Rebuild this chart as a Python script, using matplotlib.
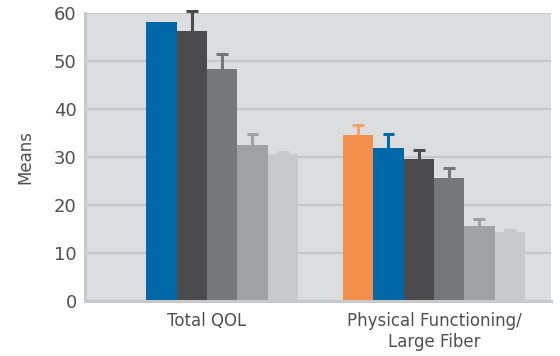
import numpy as np
from matplotlib import pyplot as plt

categories = ['Total QOL', 'Physical Functioning/\nLarge Fiber']

# one list per bar colour, left to right within each group (nan = no bar)
orange = [np.nan, 34.5]
blue = [58.1, 31.8]
dark = [56.2, 29.5]
mid = [48.3, 25.6]
light = [32.4, 15.6]
lighter = [30.6, 14.3]

# upper error bar lengths
orange_err = [0, 2.1]
blue_err = [0, 2.9]
dark_err = [4.2, 2.0]
mid_err = [3.1, 2.0]
light_err = [2.3, 1.4]
lighter_err = [0.4, 0.5]

series = [
    (orange, orange_err, '#F38F4B', '#F5A26C'),
    (blue, blue_err, '#0068A7', '#0068A7'),
    (dark, dark_err, '#4B4B4D', '#4B4B4D'),
    (mid, mid_err, '#76777A', '#76777A'),
    (light, light_err, '#A0A1A4', '#A0A1A4'),
    (lighter, lighter_err, '#C8C9CB', '#C8C9CB'),
]

plt.rcParams['font.family'] = ['DejaVu Sans']
txt = '#505050'

fig = plt.figure(figsize=(5.6, 3.56), dpi=100)
ax = fig.add_axes([0.152, 0.155, 0.832, 0.809])
ax.set_facecolor('#DCDDDF')

x = np.arange(len(categories))
w = 0.1335
cap = 0.026
for i, (vals, errs, col, ecol) in enumerate(series):
    pos = x + (i - 2.5) * w
    vals = np.array(vals, dtype=float)
    ax.bar(pos, vals, width=w, color=col, zorder=2)
    for p, v, e in zip(pos, vals, errs):
        if np.isnan(v) or e == 0:
            continue
        ax.vlines(p, v, v + e, color=ecol, linewidth=2.2, zorder=1.5, clip_on=False)
        ax.hlines(v + e, p - cap, p + cap, color=ecol, linewidth=2.2,
                  zorder=1.5, clip_on=False)

ax.set_xlim(-0.537, 1.516)
ax.set_ylim(0, 60)
ax.set_yticks(range(0, 61, 10))
ax.set_xticks(x)
ax.set_xticklabels(categories, fontsize=12, color=txt)
ax.tick_params(axis='y', length=0, pad=6, labelsize=13, labelcolor=txt)
ax.tick_params(axis='x', length=0, pad=8)
ax.set_ylabel('Means', fontsize=12, color=txt, labelpad=14)

ax.grid(axis='y', color='#C6C7C9', linewidth=1.6, zorder=0)
ax.set_axisbelow(True)
for s in ['top', 'right']:
    ax.spines[s].set_visible(False)
for s in ['left', 'bottom']:
    ax.spines[s].set_color('#C8C9CB')
    ax.spines[s].set_linewidth(2.2)

fig.savefig('out.png', dpi=100)
